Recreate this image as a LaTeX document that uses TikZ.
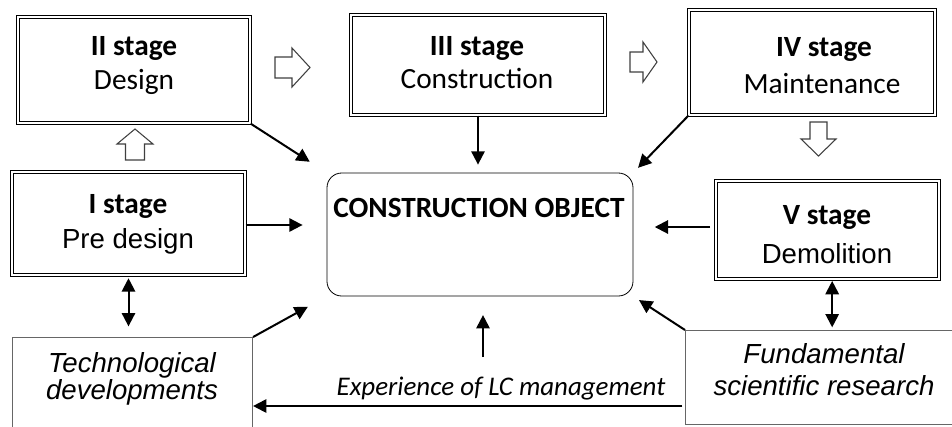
\documentclass[tikz,border=0pt]{standalone}
\usepackage{fontspec}
\setmainfont{Carlito}
\newfontfamily\arialfont{Liberation Sans}
\usetikzlibrary{arrows.meta}
\begin{document}
\begin{tikzpicture}[x=0.75pt,y=-0.75pt,
  stagebox/.style={draw, line width=0.9pt, double, double distance=1pt, inner sep=0pt},
  softbox/.style={draw=black!60, line width=0.8pt, inner sep=0pt},
  objbox/.style={draw, line width=0.6pt, rounded corners=11pt, inner sep=0pt},
  stagetitle/.style={anchor=base, inner sep=0pt, font=\bfseries\fontsize{22}{25}\selectfont},
  stagename/.style={anchor=base, inner sep=0pt, font=\fontsize{22}{25}\selectfont},
  stagenamea/.style={anchor=base, inner sep=0pt, font=\arialfont\fontsize{20.7}{25}\selectfont},
  itext/.style={anchor=base, inner sep=0pt, font=\arialfont\itshape\fontsize{20.7}{25}\selectfont},
  conn/.style={line width=1.5pt, -{Triangle[length=10pt,width=10pt]}},
  dconn/.style={line width=1.5pt, {Triangle[length=10pt,width=10pt]}-{Triangle[length=10pt,width=10pt]}},
  hollow/.style={draw=black!75, line width=0.8pt, fill=white, line join=miter},
]
\clip (0,0) rectangle (952,426);
\fill[white] (0,0) rectangle (952,426);

% stage boxes
\node[stagebox, minimum width=232*0.75pt, minimum height=106*0.75pt] (II) at (134,70) {};
\node[stagebox, minimum width=254*0.75pt, minimum height=100*0.75pt] (III) at (478,65) {};
\node[stagebox, minimum width=246*0.75pt, minimum height=105*0.75pt] (IV) at (812,62.5) {};
\node[stagebox, minimum width=233*0.75pt, minimum height=103*0.75pt] (I) at (128.5,223.5) {};
\node[stagebox, minimum width=223*0.75pt, minimum height=98*0.75pt] (V) at (827.5,230) {};

\node[stagetitle] (IIa) at (134,55.5) {II stage};
\node[stagename] (IIb) at (134,89.5) {Design};
\node[stagetitle] (IIIa) at (477,55) {III stage};
\node[stagename] (IIIb) at (477,88.5) {Construction};
\node[stagetitle] (IVa) at (824,56) {IV stage};
\node[stagename] (IVb) at (822,93) {Maintenance};
\node[stagetitle] (Ia) at (128,213) {I stage};
\node[stagenamea] (Ib) at (128,248) {Pre design};
\node[stagetitle] (Va) at (827,224) {V stage};
\node[stagenamea] (Vb) at (827,263) {Demolition};

% central object
\node[objbox, minimum width=306*0.75pt, minimum height=123*0.75pt] (obj) at (480,234.5) {};
\node[anchor=base, inner sep=0pt, font=\bfseries\fontsize{22}{25}\selectfont] (objt) at (479,217) {CONSTRUCTION OBJECT};

% lower boxes
\node[softbox, anchor=north west, minimum width=240*0.75pt, minimum height=110*0.75pt] (tech) at (12,337) {};
\node[itext] (techa) at (132,372) {Technological};
\node[itext] (techb) at (132,399) {developments};
\node[softbox, anchor=north west, minimum width=280*0.75pt, minimum height=94*0.75pt] (fund) at (685,330) {};
\node[itext] (funda) at (824,363) {Fundamental};
\node[itext] (fundb) at (824,395) {scientific research};

\node[anchor=base, inner sep=0pt, font=\itshape\fontsize{20.2}{24}\selectfont] (exp) at (501,395) {Experience of LC management};

% hollow block arrows
\coordinate (h12) at (275,67.5);
\draw[hollow] (h12) ++(0,-10.5) -- ++(17,0) -- ++(0,-9) -- ++(18,19.5) -- ++(-18,19.5) -- ++(0,-9) -- ++(-17,0) -- cycle;
\coordinate (h23) at (630,62);
\draw[hollow] (h23) ++(0,-10) -- ++(13,0) -- ++(0,-10) -- ++(14,20) -- ++(-14,20) -- ++(0,-10) -- ++(-13,0) -- cycle;
\coordinate (h34) at (818.5,122);
\draw[hollow] (h34) ++(-8.5,0) -- ++(0,17) -- ++(-9,0) -- ++(17.5,17) -- ++(17.5,-17) -- ++(-9,0) -- ++(0,-17) -- cycle;
\coordinate (h01) at (135,160);
\draw[hollow] (h01) ++(-9.5,0) -- ++(0,-16) -- ++(-8.5,0) -- ++(18,-15) -- ++(18,15) -- ++(-8.5,0) -- ++(0,16) -- cycle;

% connectors to the object
\draw[conn, shorten >=15pt] (II.south east) -- (obj.north west);
\draw[conn, shorten >=6pt] (III.south) -- (III.south |- obj.north);
\draw[conn, shorten >=5pt] (IV.south west) -- (obj.north east);
\coordinate (yI) at (0,225);
\draw[conn, shorten >=18pt] (I.east |- yI) -- (obj.west |- yI);
\coordinate (yV) at (0,227);
\draw[conn, shorten <=4pt, shorten >=16pt] (V.west |- yV) -- (obj.east |- yV);
\draw[conn, shorten >=16pt] (tech.north east) -- (obj.south west);
\draw[conn, shorten >=5pt] (fund.north west) -- (obj.south east);
\coordinate (expstart) at (483,357);
\draw[conn, shorten >=14pt] (expstart) -- (expstart |- obj.south);

% double arrows
\draw[dconn, shorten <=2pt, shorten >=8pt] (I.south) -- (I.south |- tech.north);
\draw[dconn, shorten <=1pt, shorten >=2pt] ([xshift=3.5pt]V.south) -- ([xshift=3.5pt]V.south |- fund.north);

% bottom connector
\coordinate (yB) at (0,406);
\draw[conn, shorten <=2pt] (fund.west |- yB) -- (tech.east |- yB);
\end{tikzpicture}
\end{document}
